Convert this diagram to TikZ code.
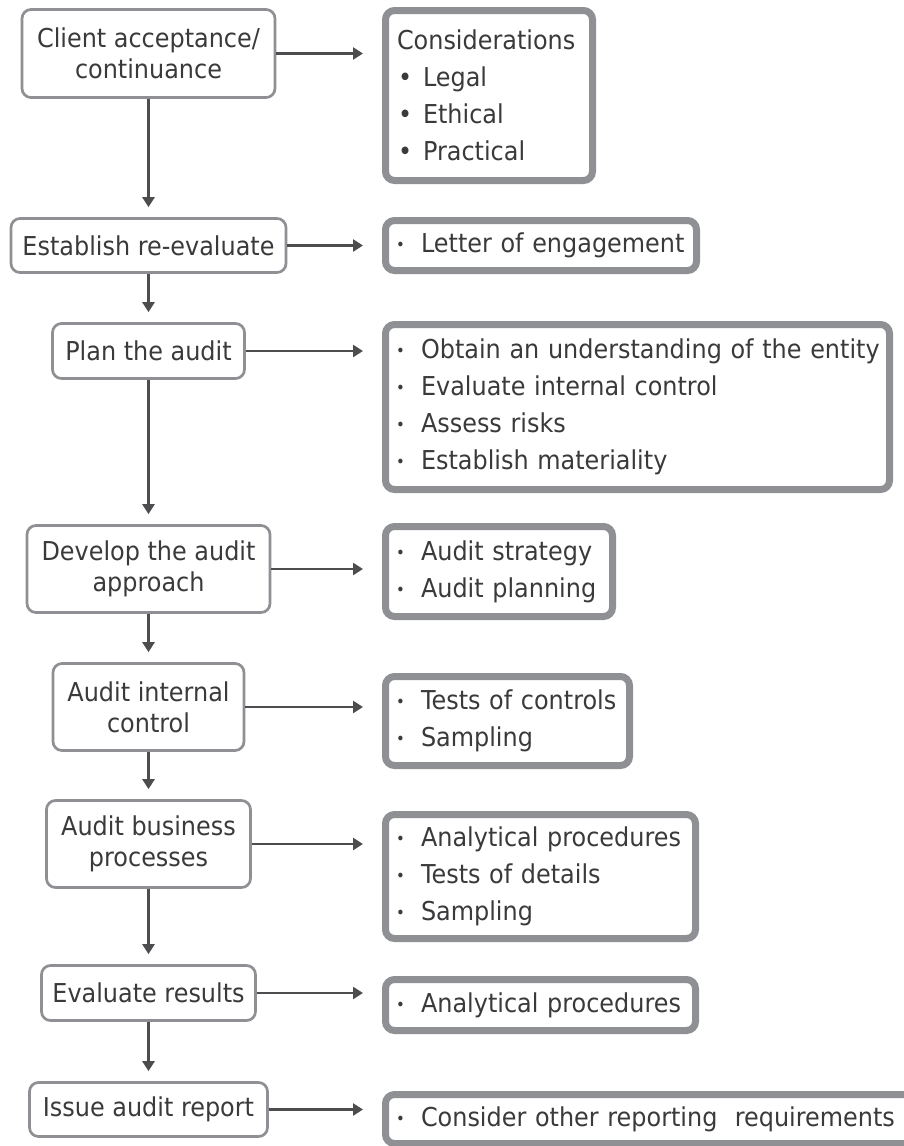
\documentclass[tikz,border=0pt]{standalone}
\usepackage{fontspec}
\setmainfont{DejaVu Sans}[FakeStretch=0.92]
\usetikzlibrary{arrows.meta}
\definecolor{boxgray}{HTML}{8F9094}
\definecolor{inkgray}{HTML}{3A3A3C}
\definecolor{linegray}{HTML}{4D4D4F}
% bullets: a larger one for the first list, a smaller one elsewhere
\newcommand\bigdot[1]{\mbox{\makebox[26pt][l]{\hspace{1pt}\textbullet}#1}}
\newcommand\smalldot[1]{\mbox{\makebox[24pt][l]{\hspace{-1pt}\raisebox{2pt}{\scalebox{0.62}{\textbullet}}}#1}}

\begin{document}
\begin{tikzpicture}[x=1pt,y=-1pt,
  stage/.style={draw=boxgray, line width=2.7pt, rounded corners=9pt, fill=white,
    align=center, inner sep=0pt, text=inkgray,
    font=\fontsize{26pt}{31pt}\selectfont},
  detail/.style={draw=boxgray, line width=7pt, rounded corners=9pt, fill=white,
    align=left, inner xsep=11.5pt, inner ysep=0pt, anchor=west, text=inkgray,
    font=\fontsize{26pt}{37pt}\selectfont},
  flow/.style={draw=linegray, line width=2.5pt, -{Triangle[length=10pt,width=12pt]}},
]
\useasboundingbox (0,0) rectangle (904,1146);
\clip (0,0) rectangle (904,1146);
\fill[white] (0,0) rectangle (904,1146);

% stages of the audit (left column)
\node[stage, minimum width=253pt, minimum height=88pt] (s1) at (148.5,53.5) {Client acceptance/\\continuance};
\node[stage, minimum width=275pt, minimum height=54pt] (s2) at (148.5,245.5) {Establish re-evaluate};
\node[stage, minimum width=192pt, minimum height=55pt] (s3) at (148.5,351) {Plan the audit};
\node[stage, minimum width=243pt, minimum height=87pt] (s4) at (148.5,569) {Develop the audit\\approach};
\node[stage, minimum width=191pt, minimum height=87pt] (s5) at (148.5,707) {Audit internal\\control};
\node[stage, minimum width=204pt, minimum height=87pt] (s6) at (148.5,844) {Audit business\\processes};
\node[stage, minimum width=214pt, minimum height=55pt] (s7) at (148.5,993) {Evaluate results};
\node[stage, minimum width=238pt, minimum height=54pt] (s8) at (148.5,1109.5) {Issue audit report};

% details for each stage (right column)
\node[detail, minimum width=207pt, text width=184pt, minimum height=170pt] (d1) at (382,95.5)
  {Considerations\\\bigdot{Legal}\\\bigdot{Ethical}\\\bigdot{Practical}};
\node[detail, minimum width=311pt, text width=288pt, minimum height=50pt] (d2) at (382,245.5)
  {\smalldot{Letter of engagement}};
\node[detail, minimum width=504pt, text width=481pt, minimum height=165pt] (d3) at (382,407)
  {\smalldot{Obtain an understanding of the entity}\\\smalldot{Evaluate internal control}\\\smalldot{Assess risks}\\\smalldot{Establish materiality}};
\node[detail, minimum width=227pt, text width=204pt, minimum height=90pt] (d4) at (382,571.5)
  {\smalldot{Audit strategy}\\\smalldot{Audit planning}};
\node[detail, minimum width=244pt, text width=221pt, minimum height=89pt] (d5) at (382,721)
  {\smalldot{Tests of controls}\\\smalldot{Sampling}};
\node[detail, minimum width=310pt, text width=287pt, minimum height=124pt] (d6) at (382,876.5)
  {\smalldot{Analytical procedures}\\\smalldot{Tests of details}\\\smalldot{Sampling}};
\node[detail, minimum width=310pt, text width=287pt, minimum height=51pt] (d7) at (382,1005)
  {\smalldot{Analytical procedures}};
\node[detail, minimum width=561pt, text width=538pt, minimum height=49pt] (d8) at (382,1119)
  {\smalldot{Consider other reporting~ requirements}};

% flow down the stages
\foreach \a/\b in {s1/s2,s2/s3,s3/s4,s4/s5,s5/s6,s6/s7,s7/s8}
  \draw[flow, shorten >=10pt] (\a.south) -- (\b.north);

% each stage points to its details
\foreach \i in {1,...,8}
  \draw[flow, shorten >=19pt] (s\i.east) -- (s\i.east -| d\i.west);
\end{tikzpicture}
\end{document}
